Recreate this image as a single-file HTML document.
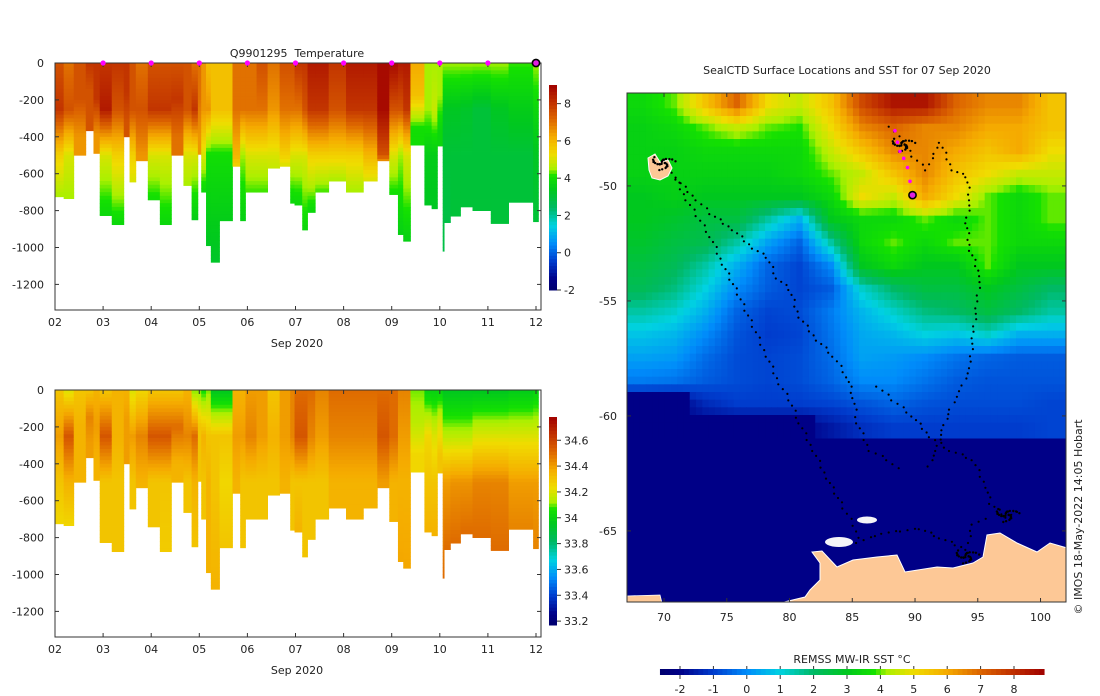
<!DOCTYPE html>
<html><head><meta charset="utf-8">
<style>
html,body{margin:0;padding:0;background:#fff;}
svg{display:block;font-family:"DejaVu Sans","Liberation Sans",sans-serif;}
text{fill:#222;font-size:11px;}
</style></head>
<body>
<svg id="root" width="1100" height="696" viewBox="0 0 1100 696" xmlns="http://www.w3.org/2000/svg">
<defs>
<clipPath id="mapclip"><rect x="627" y="93" width="439" height="509"/></clipPath>
</defs>
<g id="tempPanel"></g>
<g id="salPanel"></g>
<g id="mapPanel"></g>
<text x="297" y="57" text-anchor="middle" font-size="12">Q9901295&#160; Temperature</text>
<text x="297" y="347" text-anchor="middle">Sep 2020</text>
<text x="297" y="674" text-anchor="middle">Sep 2020</text>
<text x="847" y="74" text-anchor="middle" font-size="11.5">SealCTD Surface Locations and SST for 07 Sep 2020</text>
<text x="852" y="663" text-anchor="middle">REMSS MW-IR SST °C</text>
<text transform="translate(1082,517) rotate(-90)" text-anchor="middle" font-size="9.5">© IMOS 18-May-2022 14:05 Hobart</text>
</svg>
<script>
// ---- profile data ----
const profStart=[2.00,2.18,2.39,2.64,2.80,2.93,3.18,3.43,3.55,3.68,3.93,4.18,4.42,4.67,4.84,4.97,5.04,5.14,5.24,5.42,5.69,5.85,5.96,6.19,6.42,6.67,6.89,6.98,7.14,7.25,7.41,7.69,8.05,8.41,8.70,8.95,9.13,9.24,9.39,9.68,9.83,9.95,10.06,10.09,10.22,10.43,10.68,11.06,11.43,11.94];
const profEnd=12.05;
const profDepth=[725,735,500,367,490,827,876,400,645,530,742,876,500,664,850,495,700,990,1080,855,560,855,700,700,570,560,760,770,905,810,700,640,700,640,530,713,930,966,445,770,790,450,1020,865,830,780,800,870,755,860];
const temp0=[7.5,7,7.5,8,8,8,8,8,7.5,7,7.5,7.5,7.5,7.5,7,7,6.5,5.8,5.8,5.8,7,7,7,7.5,7,7.5,7.5,8,8,8.5,8.5,8,8.5,8.5,8.8,8.8,8.5,8.5,6.2,4.5,4.5,4.5,4.5,4.5,4.5,4.5,4.5,4.5,4.2,4.5];
const temp250=[8,7.5,7.5,7.5,8,8.5,7.5,8,7.5,7.5,8,8,8,7.5,8,7,6.5,6.5,5.8,5.8,7,7,7,7,6.5,7,7,7,7.5,8,8,7.5,8,8,8.8,7.5,7.5,8,5.8,4.5,4.8,4.5,3.3,3.3,3.3,3.2,3,3.3,3.5,3.8];
const temp500=[5.5,5,6.5,7.5,6.5,5,5.5,7.5,5.5,6.5,5,5,7,5,5,6.5,5,4,4,4,6,4.5,5,5,5,5.5,5,5,5,5.5,5.5,5.5,5.5,6,7.5,5,4.5,5,4,3.5,3.5,3.8,3,3,3,3,3,3,3,3.3];
const tempBot=[4.5,4.5,6.5,7.5,6.5,3.8,3.8,7.5,5,6.5,4,3.8,7,4.5,3.5,6.5,3.8,3.3,3.2,3.5,5.5,3.6,4.2,4.2,4.8,5,3.8,3.8,3.8,3.8,4.2,4.5,4.5,5,6.5,4,3.6,3.6,4,3.3,3.3,3.8,2.8,2.8,3,3,3,3,3,3];
const sal0=[34.3,34.2,34.3,34.3,34.35,34.3,34.35,34.35,34.2,34.25,34.3,34.3,34.3,34.35,34.1,34.1,34.05,34.1,33.95,33.95,34.35,34.35,34.4,34.4,34.3,34.4,34.45,34.5,34.5,34.5,34.45,34.5,34.5,34.5,34.5,34.5,34.45,34.45,34.1,34.0,34.0,34.0,33.95,33.95,33.95,33.95,33.95,33.95,33.97,34.0];
const sal250=[34.4,34.55,34.35,34.45,34.4,34.55,34.35,34.4,34.4,34.45,34.55,34.55,34.5,34.45,34.5,34.3,34.35,34.3,34.3,34.3,34.4,34.4,34.45,34.4,34.35,34.4,34.45,34.55,34.55,34.45,34.4,34.45,34.45,34.45,34.55,34.5,34.4,34.4,34.15,34.25,34.2,34.2,34.15,34.15,34.15,34.15,34.2,34.2,34.2,34.2];
const sal500=[34.3,34.35,34.35,34.4,34.35,34.3,34.3,34.4,34.3,34.35,34.3,34.3,34.35,34.3,34.35,34.3,34.3,34.35,34.3,34.25,34.35,34.3,34.3,34.3,34.3,34.35,34.3,34.3,34.3,34.3,34.3,34.35,34.35,34.35,34.4,34.35,34.35,34.35,34.25,34.3,34.3,34.3,34.4,34.4,34.42,34.42,34.45,34.45,34.4,34.4];
const salBot=[34.25,34.25,34.35,34.4,34.35,34.3,34.3,34.4,34.3,34.35,34.3,34.28,34.35,34.3,34.3,34.3,34.3,34.35,34.35,34.3,34.35,34.3,34.3,34.3,34.3,34.35,34.3,34.35,34.3,34.3,34.3,34.35,34.35,34.35,34.4,34.35,34.38,34.38,34.25,34.35,34.35,34.3,34.5,34.5,34.5,34.5,34.5,34.5,34.45,34.45];
const dayTicks=[2,3,4,5,6,7,8,9,10,11,12];
const dayTickLabels=["02","03","04","05","06","07","08","09","10","11","12"];
const depthTicks=[0,-200,-400,-600,-800,-1000,-1200];
const markerDays=[3,4,5,6,7,8,9,10,11];
const tempCbTicks=[8,6,4,2,0,-2];
const salCbTicks=[34.6,34.4,34.2,34,33.8,33.6,33.4,33.2];
const tempRange=[-2,9];
const salRange=[33.17,34.78];

// ---- map data ----
const sstLon0=67.05, sstLat0=-45.96, sstDLon=2.5, sstDLat=1;
const sstGrid=[
[3.5,4,5.5,7,5,4.5,5.5,7.5,8.5,8.5,7,6.5,6.5,5.5],
[3.3,3.5,4,4.5,4,3.8,5,6.5,7,6.5,6.5,6,6,5.5],
[3.3,3.3,3.5,3.5,3.5,3.5,4.5,5.5,6.5,6.5,6,5.5,6,5],
[3.3,3.3,3.3,3.3,3.3,3.5,4,4.5,5.5,6.5,5.5,5,4.5,4.5],
[3,3.2,3,3,3,3,3.5,5,4.5,6,5,4,3.5,4],
[3,2.8,2.5,2.5,1.5,0.5,3,3.5,3.5,4,3.5,4,3.5,4],
[2.8,2.5,2.3,1.5,0.3,-0.5,1.5,3.5,4,3.5,4,4,3.5,3.5],
[2.5,2.2,1.5,0.5,-0.5,-0.9,0,3,3.5,3,3,4,3,3],
[2.2,1.8,1,0,-0.6,-0.9,-0.6,1.2,2,2.5,2.5,3,2.5,2],
[1.5,1.2,0.5,-0.5,-0.9,-0.8,-0.2,0.6,1.2,1.8,2,2.5,2,1.5],
[0.8,0.6,0,-0.7,-1,-0.9,-0.3,0.4,0.6,1,0.8,1.2,0.5,0.5],
[0.3,0.2,-0.4,-0.8,-0.9,-0.8,-0.4,0.3,0.2,0,-0.3,-0.5,-0.6,-0.6],
[-0.2,-0.3,-0.6,-0.8,-0.9,-0.8,-0.5,0,0,-0.3,-0.6,-0.7,-0.7,-0.7],
[-2,-2,-1.3,-1,-1,-1,-0.9,-0.7,-0.5,-0.7,-0.8,-0.8,-0.8,-0.9],
[-2,-2,-2,-2,-2,-2,-1.6,-1.2,-1,-1,-1,-1,-1,-0.9]
];
const sstFill=-2;
const trackLon=[[70.7,71.8,73.7,74.7,75.9,77.1,78.2,79.2,80.0,80.8,81.9,83.0,84.3,85.4,85.6],
[71.0,72.6,73.7,75.5,77.1,78.2,79.0,80.0,80.8,82.2,83.5,84.6,85.1,85.4,86.4,87.8,89.0],
[88.0,89.0,89.8,90.9,92.0,93.0,94.1,94.4,94.1,94.4,95.2,94.9,94.6,94.4,93.6,92.8,92.2,91.7,90.9],
[87.0,88.2,89.8,91.2,92.8,94.6,95.7,96.0,97.3,98.4],
[85.4,87.4,90.4,92.0,94.1,94.6,96.0]];
const trackLat=[[-49.4,-50.6,-52.2,-53.4,-54.7,-56.1,-57.4,-58.6,-59.3,-60.3,-61.5,-62.7,-64.0,-65.0,-65.6],
[-49.7,-50.6,-51.2,-51.9,-52.7,-53.1,-54.0,-54.5,-55.7,-56.7,-57.4,-58.3,-59.2,-60.3,-61.5,-61.9,-62.5],
[-47.4,-48.1,-48.7,-49.3,-48.1,-49.3,-49.6,-50.6,-51.6,-52.8,-53.9,-55.3,-56.6,-57.9,-58.9,-59.7,-60.6,-61.5,-62.4],
[-58.7,-59.3,-60.0,-60.9,-61.5,-61.9,-63.1,-63.8,-64.4,-64.1],
[-65.5,-65.1,-64.9,-65.3,-65.8,-64.7,-64.4]];
const clusterLon=[94.1,97.3,89.0,69.9];
const clusterLat=[-66.1,-64.3,-48.2,-49.0];
const recentLon=[88.4,88.6,88.8,89.1,89.4,89.6];
const recentLat=[-47.6,-48.1,-48.5,-48.8,-49.2,-49.8];
const latestLon=[89.8], latestLat=[-50.4];
const lonTicks=[70,75,80,85,90,95,100];
const latTicks=[-50,-55,-60,-65];
const sstCbTicks=[-2,-1,0,1,2,3,4,5,6,7,8];
const sstRange=[-2.6,8.9];

// ---- helpers ----
const NS="http://www.w3.org/2000/svg";
function mk(tag,attrs,parent){const e=document.createElementNS(NS,tag);for(const k in attrs)e.setAttribute(k,attrs[k]);parent.appendChild(e);return e;}
const stops=[[-2.6,[0,0,110]],[-2,[0,0,135]],[-1,[0,60,205]],[0,[0,140,250]],[1,[0,210,225]],[2,[0,185,100]],[3,[0,200,30]],[3.8,[20,225,0]],[4.2,[170,240,0]],[5,[240,220,0]],[6,[245,170,0]],[7,[220,100,0]],[8,[190,45,0]],[8.9,[160,0,0]]];
function cmapSST(v){if(v<=stops[0][0])return rgb(stops[0][1]);for(let i=1;i<stops.length;i++){if(v<=stops[i][0]){const a=stops[i-1],b=stops[i];const f=(v-a[0])/(b[0]-a[0]);return rgb(a[1].map((c,j)=>c+(b[1][j]-c)*f));}}return rgb(stops[stops.length-1][1]);}
function rgb(c){return "rgb("+c.map(x=>Math.round(x)).join(",")+")";}
function cmapRange(v,r){const f=(v-r[0])/(r[1]-r[0]);return cmapSST(sstRange[0]+f*(sstRange[1]-sstRange[0]));}
function X(d){return 55+(d-2)*48.1;}
function interp(xs,ys,x){for(let i=1;i<xs.length;i++){if(x<=xs[i]){const f=(x-xs[i-1])/((xs[i]-xs[i-1])||1);return ys[i-1]+(ys[i]-ys[i-1])*f;}}return ys[ys.length-1];}

function drawSection(parentId,y0,yBottom,k0,k1,k2,kb,range,cbTop,cbBot,cbTicks,cbFmt,prefix){
  const g=document.getElementById(parentId);
  const Y=dep=>y0+dep*0.1845;
  const cells=mk("g",{},g);
  
  
  for(let i=0;i<profStart.length;i++){
    const xa=X(profStart[i]), xb=X(i+1<profStart.length?profStart[i+1]:profEnd);
    const D=profDepth[i];
    const kd=D>520?[0,250,500,D]:[0,D*0.4,D*0.8,D];
    const vals=[k0[i],k1[i],k2[i],kb[i]];
    const col=mk("g",{},cells);
    
    
    for(let d=0;d<D;d+=20){
      const dd=Math.min(d+20,D);
      const v=interp(kd,vals,(d+dd)/2);
      const r=mk("rect",{x:xa.toFixed(2),y:Y(d).toFixed(2),width:(xb-xa+0.4).toFixed(2),height:(Y(dd)-Y(d)+0.4).toFixed(2),fill:cmapRange(v,range)},col);
      
      
    }
  }
  const ax=mk("rect",{x:55,y:y0,width:486,height:yBottom-y0,fill:"none",stroke:"#333","stroke-width":1},g);
  
  
  dayTicks.forEach((d,i)=>{
    const x=X(d);
    mk("line",{x1:x,x2:x,y1:yBottom,y2:yBottom-4,stroke:"#333"},g);
    mk("line",{x1:x,x2:x,y1:y0,y2:y0+4,stroke:"#333"},g);
    const t=mk("text",{x:x,y:yBottom+16,"text-anchor":"middle"},g);
    t.textContent=dayTickLabels[i];
    
    
  });
  depthTicks.forEach(v=>{
    const y=Y(-v);
    mk("line",{x1:55,x2:59,y1:y,y2:y,stroke:"#333"},g);
    mk("line",{x1:541,x2:537,y1:y,y2:y,stroke:"#333"},g);
    const t=mk("text",{x:44,y:y+4,"text-anchor":"end"},g);
    t.textContent=String(v);
    
    
  });
  const cb=mk("g",{},g);
  
  
  const n=60;
  for(let j=0;j<n;j++){
    const v=range[1]-(j+0.5)/n*(range[1]-range[0]);
    mk("rect",{x:549,y:(cbTop+j*(cbBot-cbTop)/n).toFixed(2),width:8,height:((cbBot-cbTop)/n+0.5).toFixed(2),fill:cmapRange(v,range)},cb);
  }
  const CY=v=>cbBot-(v-range[0])/(range[1]-range[0])*(cbBot-cbTop);
  cbTicks.forEach(v=>{
    const y=CY(v);
    mk("line",{x1:557,x2:561,y1:y,y2:y,stroke:"#333"},cb);
    const t=mk("text",{x:564,y:y+4},cb);
    t.textContent=cbFmt(v);
    
    
  });
}
drawSection("tempPanel",63,310,temp0,temp250,temp500,tempBot,tempRange,85,290,tempCbTicks,v=>String(v),"temp");
drawSection("salPanel",390,637,sal0,sal250,sal500,salBot,salRange,417,625,salCbTicks,v=>String(v),"sal");

(function(){
  const g=document.getElementById("tempPanel");
  markerDays.forEach(d=>{
    const m=mk("circle",{cx:X(d),cy:63,r:2.6,fill:"#f0f"},g);
    
    
  });
  const last=mk("circle",{cx:X(12),cy:63,r:3.6,fill:"#e020e0",stroke:"#000","stroke-width":1.6},g);
  
  
})();

// ---- map ----
(function(){
  const g=document.getElementById("mapPanel");
  const MX=lon=>627+(lon-67.05)*12.55;
  const MY=lat=>93+(-45.96-lat)*23;
  const clip=mk("g",{"clip-path":"url(#mapclip)"},g);
  const bg=mk("rect",{x:627,y:93,width:439,height:509,fill:cmapSST(sstFill)},clip);
  
  
  const grid=mk("g",{},clip);
  
  
  const R=sstGrid.length, C=sstGrid[0].length;
  function val(r,c){
    const rr=Math.max(0,Math.min(R-1,r-0.5)), cc=Math.max(0,Math.min(C-1,c-0.5));
    const r0=Math.floor(rr), c0=Math.floor(cc), r1=Math.min(R-1,r0+1), c1=Math.min(C-1,c0+1);
    const fr=rr-r0, fc=cc-c0;
    const a=sstGrid[r0][c0]*(1-fc)+sstGrid[r0][c1]*fc;
    const b=sstGrid[r1][c0]*(1-fc)+sstGrid[r1][c1]*fc;
    return a*(1-fr)+b*fr;
  }
  const sub=5, subR=3;
  for(let r=0;r<R;r++){
    for(let c=0;c<C;c++){
      for(let i=0;i<subR;i++){
        for(let j=0;j<sub;j++){
          const rf=r+(i+0.5)/subR, cf=c+(j+0.5)/sub;
          const v=sstGrid[r][c]<=-1.9?sstGrid[r][c]:val(rf,cf);
          const x=MX(sstLon0+(c+j/sub)*sstDLon), y=MY(sstLat0-(r+i/subR)*sstDLat);
          const cell=mk("rect",{x:x.toFixed(2),y:y.toFixed(2),width:(sstDLon*12.55/sub+0.5).toFixed(2),height:(sstDLat*23/subR+0.5).toFixed(2),fill:cmapSST(v)},grid);
          
          
        }
      }
    }
  }
  const land=mk("path",{d:"M780,603 L805,597 L810,590 L820,580 L820,563 L812,552 L822,551 L837,567 L853,560 L877,557 L897,555 L905,572 L937,567 L953,568 L973,563 L983,557 L987,535 L1000,533 L1017,543 L1037,552 L1050,543 L1067,548 L1067,603 Z",fill:"#fdc896",stroke:"#fff","stroke-width":1},clip);
  
  
  const land2=mk("path",{d:"M626,596 L660,595 L662,603 L626,603 Z",fill:"#fdc896",stroke:"#fff","stroke-width":0.8},clip);
  
  
  const isl=mk("path",{d:"M648,158 L655,154 L660,162 L668,160 L672,168 L668,176 L660,180 L652,178 L649,170 Z",fill:"#fdc896",stroke:"#fff","stroke-width":1},clip);
  
  
  const ice1=mk("ellipse",{cx:867,cy:520,rx:10,ry:3.5,fill:"#f4f4f8"},clip);
  
  
  const ice2=mk("ellipse",{cx:839,cy:542,rx:14,ry:5,fill:"#f4f4f8"},clip);
  
  
  const tg=mk("g",{},clip);
  
  
  for(let t=0;t<trackLon.length;t++){
    for(let i=1;i<trackLon[t].length;i++){
      const x0=MX(trackLon[t][i-1]),y0=MY(trackLat[t][i-1]),x1=MX(trackLon[t][i]),y1=MY(trackLat[t][i]);
      const L=Math.hypot(x1-x0,y1-y0);const n=Math.max(1,Math.round(L/6));
      for(let k=0;k<n;k++){
        const f=k/n;const off=((k%3)-1)*1.2;
        const d=mk("circle",{cx:(x0+(x1-x0)*f+off).toFixed(1),cy:(y0+(y1-y0)*f-off*0.5).toFixed(1),r:1.1,fill:"#000"},tg);
        
        
      }
    }
  }
  for(let c=0;c<clusterLon.length;c++){
    const cx=MX(clusterLon[c]),cy=MY(clusterLat[c]);
    for(let k=0;k<26;k++){
      const a=k*2.4,rr=1.5+(k%7)*1.3;
      const d=mk("circle",{cx:(cx+Math.cos(a)*rr*1.4).toFixed(1),cy:(cy+Math.sin(a)*rr*0.8).toFixed(1),r:1.2,fill:"#000"},tg);
      
      
    }
  }
  recentLon.forEach((lon,i)=>{
    const d=mk("circle",{cx:MX(lon),cy:MY(recentLat[i]),r:1.8,fill:"#f0f"},tg);
    
    
  });
  const lp=mk("circle",{cx:MX(latestLon[0]),cy:MY(latestLat[0]),r:3.6,fill:"#e020e0",stroke:"#000","stroke-width":1.6},tg);
  
  
  const fr=mk("rect",{x:627,y:93,width:439,height:509,fill:"none",stroke:"#333"},g);
  
  
  lonTicks.forEach(l=>{
    const x=MX(l);
    mk("line",{x1:x,x2:x,y1:602,y2:598,stroke:"#333"},g);
    mk("line",{x1:x,x2:x,y1:93,y2:97,stroke:"#333"},g);
    const t=mk("text",{x:x,y:621,"text-anchor":"middle"},g);
    t.textContent=String(l);
    
    
  });
  latTicks.forEach(l=>{
    const y=MY(l);
    mk("line",{x1:627,x2:631,y1:y,y2:y,stroke:"#333"},g);
    mk("line",{x1:1066,x2:1062,y1:y,y2:y,stroke:"#333"},g);
    const t=mk("text",{x:617,y:y+4,"text-anchor":"end"},g);
    t.textContent=String(l);
    
    
  });
  const cb=mk("g",{},g);
  
  
  const CX=v=>680+(v+2)*33.4;
  const x0=CX(sstRange[0]),x1=CX(sstRange[1]);const n=80;
  for(let j=0;j<n;j++){
    const v=sstRange[0]+(j+0.5)/n*(sstRange[1]-sstRange[0]);
    mk("rect",{x:(x0+j*(x1-x0)/n).toFixed(2),y:669,width:((x1-x0)/n+0.5).toFixed(2),height:6,fill:cmapSST(v)},cb);
  }
  sstCbTicks.forEach(v=>{
    const x=CX(v);
    mk("line",{x1:x,x2:x,y1:666,y2:669,stroke:"#333"},cb);
    mk("line",{x1:x,x2:x,y1:675,y2:679,stroke:"#333"},cb);
    const t=mk("text",{x:x,y:693,"text-anchor":"middle"},cb);
    t.textContent=String(v);
    
    
  });
})();
</script>
</body></html>
